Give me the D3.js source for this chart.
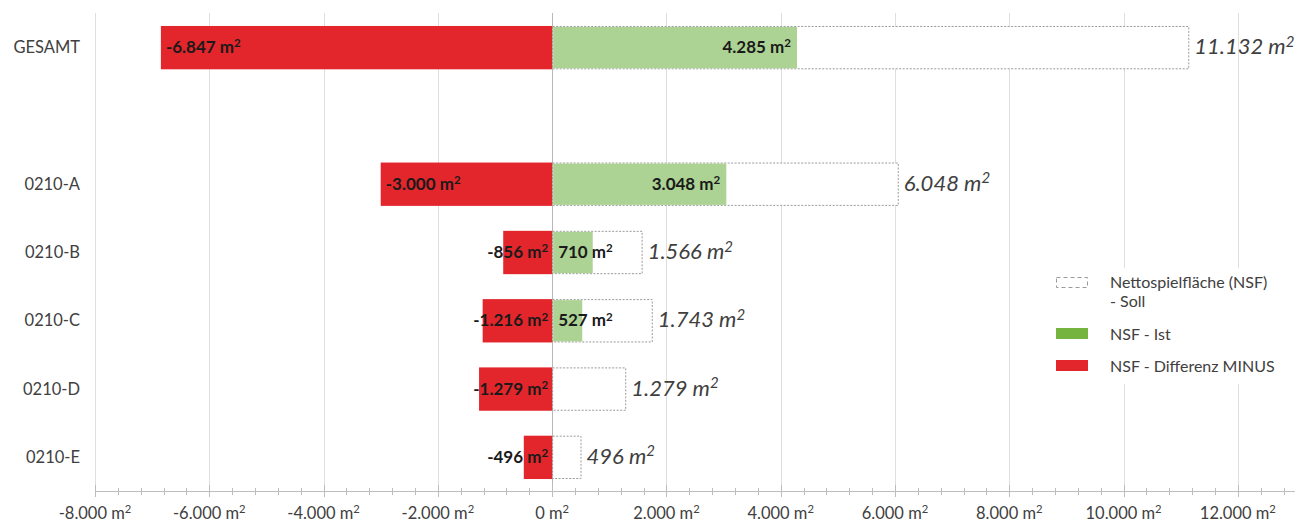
<!DOCTYPE html>
<html>
<head>
<meta charset="utf-8">
<script src="https://cdn.jsdelivr.net/npm/d3@7"></script>
<style>
  html, body { margin: 0; padding: 0; background: #fff; }
  svg { display: block; font-family: Lato, "Open Sans", sans-serif; }
</style>
</head>
<body>
<svg id="chart" width="1302" height="525"></svg>
<script>
// Spielflächen je Bereich (m²)
const categories = ["GESAMT", "0210-A", "0210-B", "0210-C", "0210-D", "0210-E"];
const sollValues = [11132, 6048, 1566, 1743, 1279, 496];
const istValues = [4285, 3048, 710, 527, 0, 0];
const minusValues = [-6847, -3000, -856, -1216, -1279, -496];
const tickValues = [-8000, -6000, -4000, -2000, 0, 2000, 4000, 6000, 8000, 10000, 12000];
const legendLabels = [["Nettospielfläche (NSF)", "- Soll"], ["NSF - Ist"], ["NSF - Differenz MINUS"]];

const rows = categories.map((c, i) => ({
  name: c, soll: sollValues[i], ist: istValues[i], minus: minusValues[i]
}));

const de = d3.formatLocale({ decimal: ",", thousands: ".", grouping: [3], currency: ["", " €"] });
const fmt = de.format(",d");

const svg = d3.select("#chart");
const RED = "#e3262c", GREEN_BAR = "#acd394", GREEN_KEY = "#74b43f", TEXT = "#404040";

// a blank slot separates the total from the single areas
const bandDomain = [categories[0], "_gap", ...categories.slice(1)];

const x = d3.scaleLinear().domain([-8000, 13000]).range([95, 1295]);
const y = d3.scaleBand().domain(bandDomain).range([13, 491]).paddingInner(0.38).paddingOuter(0.19);

// vertical gridlines
svg.append("g").selectAll("line").data(tickValues).join("line")
  .attr("x1", d => Math.round(x(d)) + 0.5).attr("x2", d => Math.round(x(d)) + 0.5)
  .attr("y1", 13).attr("y2", 491)
  .attr("stroke", d => d === 0 ? "#b8b8b8" : "#dedede").attr("stroke-width", 1);

// category labels
svg.append("g").selectAll("text").data(rows).join("text")
  .attr("x", 80).attr("y", d => y(d.name) + y.bandwidth() / 2)
  .attr("text-anchor", "end").attr("dominant-baseline", "central")
  .attr("font-size", 16.5).attr("fill", TEXT).text(d => d.name);

const bars = svg.append("g");
// Soll: white box with dotted outline
bars.selectAll("rect.soll").data(rows).join("rect").attr("class", "soll")
  .attr("x", x(0) + 0.5).attr("y", d => y(d.name) + 0.5)
  .attr("width", d => x(d.soll) - x(0)).attr("height", y.bandwidth())
  .attr("fill", "#fff").attr("stroke", "#9a9a9a").attr("stroke-width", 1)
  .attr("stroke-dasharray", "2,1.5");
// Ist
bars.selectAll("rect.ist").data(rows.filter(d => d.ist > 0)).join("rect").attr("class", "ist")
  .attr("x", x(0) + 1).attr("y", d => y(d.name) + 1)
  .attr("width", d => x(d.ist) - x(0) - 1).attr("height", y.bandwidth() - 1)
  .attr("fill", GREEN_BAR);
// Differenz
bars.selectAll("rect.minus").data(rows).join("rect").attr("class", "minus")
  .attr("x", d => x(d.minus)).attr("y", d => y(d.name))
  .attr("width", d => x(0) - x(d.minus)).attr("height", y.bandwidth() + 1)
  .attr("fill", RED);

// m² helper
function area(sel, num) {
  sel.append("tspan").text(num + " m");
  sel.append("tspan").attr("font-size", "0.68em").attr("dy", "-0.5em").text("2");
}

const labels = svg.append("g").attr("font-weight", "bold").attr("font-size", 17).attr("fill", "#1a1a1a");
// Differenz labels
rows.forEach(d => {
  const wide = x(0) - x(d.minus) > 150;
  const t = labels.append("text")
    .attr("x", wide ? x(d.minus) + 5 : x(0) - 4)
    .attr("y", y(d.name) + y.bandwidth() / 2 + 6)
    .attr("text-anchor", wide ? "start" : "end");
  area(t, fmt(d.minus).replace("−", "-"));
});
// Ist labels
rows.filter(d => d.ist > 0).forEach(d => {
  const wide = x(d.ist) - x(0) > 150;
  const t = labels.append("text")
    .attr("x", wide ? x(d.ist) - 6 : x(0) + 6)
    .attr("y", y(d.name) + y.bandwidth() / 2 + 6)
    .attr("text-anchor", wide ? "end" : "start");
  area(t, fmt(d.ist));
});
// Soll labels
const sollLab = svg.append("g").attr("font-style", "italic").attr("font-size", 22).attr("fill", TEXT);
rows.forEach(d => {
  const t = sollLab.append("text")
    .attr("x", x(d.soll) + 6)
    .attr("y", y(d.name) + y.bandwidth() / 2 + 7);
  area(t, fmt(d.soll));
});

// x axis with major and minor ticks
const axisG = svg.append("g");
axisG.append("line").attr("x1", x(-8000)).attr("x2", x(13000))
  .attr("y1", 491.5).attr("y2", 491.5).attr("stroke", "#bdbdbd");
axisG.selectAll("line.minor").data(d3.range(-8000, 13001, 400)).join("line").attr("class", "minor")
  .attr("x1", d => Math.round(x(d)) + 0.5).attr("x2", d => Math.round(x(d)) + 0.5)
  .attr("y1", 488).attr("y2", 495).attr("stroke", "#bdbdbd");
axisG.selectAll("line.major").data(tickValues).join("line").attr("class", "major")
  .attr("x1", d => Math.round(x(d)) + 0.5).attr("x2", d => Math.round(x(d)) + 0.5)
  .attr("y1", 485).attr("y2", 497).attr("stroke", "#bdbdbd");
axisG.selectAll("text").data(tickValues).join("text")
  .attr("x", d => x(d)).attr("y", 519).attr("text-anchor", "middle")
  .attr("font-size", 16.5).attr("fill", TEXT)
  .each(function (d) { area(d3.select(this), fmt(d).replace("−", "-")); });

// legend
const lg = svg.append("g");
lg.append("rect").attr("x", 1045).attr("y", 268).attr("width", 252).attr("height", 116).attr("fill", "#fff");
lg.append("rect").attr("x", 1056.5).attr("y", 277.5).attr("width", 31).attr("height", 10)
  .attr("fill", "none").attr("stroke", "#9a9a9a").attr("stroke-dasharray", "4,3");
lg.append("rect").attr("x", 1056).attr("y", 328).attr("width", 32).attr("height", 11).attr("fill", GREEN_KEY);
lg.append("rect").attr("x", 1056).attr("y", 360).attr("width", 32).attr("height", 11).attr("fill", RED);
const lgY = [288, 340, 372];
legendLabels.forEach((lines, i) => {
  lines.forEach((s, j) => {
    lg.append("text").attr("x", 1110).attr("y", lgY[i] + j * 19)
      .attr("font-size", 16).attr("fill", TEXT).text(s);
  });
});
</script>
</body>
</html>
